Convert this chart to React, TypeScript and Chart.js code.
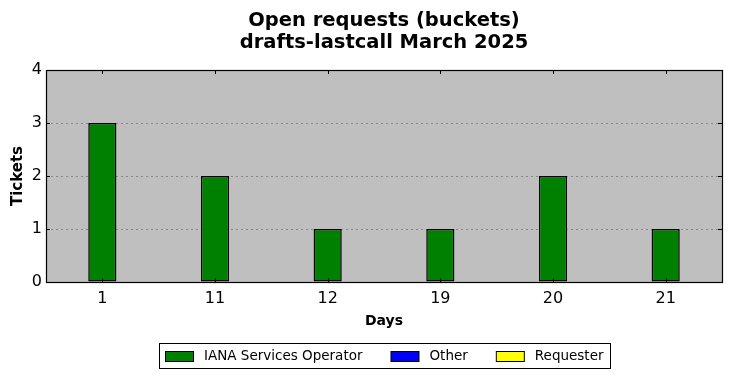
import React, { useEffect, useRef } from "react";
import { Chart, registerables } from "chart.js";

Chart.register(...registerables);

const titleLines = ["Open requests (buckets)", "drafts-lastcall March 2025"];
const days = ["1", "11", "12", "19", "20", "21"];
const seriesNames = ["IANA Services Operator", "Other", "Requester"];
const seriesColors = ["#008000", "#0000ff", "#ffff00"];
const ianaValues = [3, 2, 1, 1, 2, 1];
const otherValues = [0, 0, 0, 0, 0, 0];
const requesterValues = [0, 0, 0, 0, 0, 0];
const yTicks = [0, 1, 2, 3, 4];

const FONT = "'DejaVu Sans', sans-serif";

const framePlugin = {
  id: "frame",
  beforeDraw(chart: any) {
    const { ctx, chartArea: a } = chart;
    ctx.save();
    ctx.fillStyle = "#bfbfbf";
    ctx.fillRect(a.left, a.top, a.right - a.left, a.bottom - a.top);
    ctx.restore();
  },
  afterDatasetsDraw(chart: any) {
    const { ctx, chartArea: a } = chart;
    const xs = chart.scales.x;
    const ys = chart.scales.y;
    ctx.save();
    ctx.strokeStyle = "#000";
    ctx.lineWidth = 1;
    ctx.beginPath();
    for (let i = 0; i < days.length; i++) {
      const px = Math.round(xs.getPixelForTick(i)) + 0.5;
      ctx.moveTo(px, a.top);
      ctx.lineTo(px, a.top + 4);
      ctx.moveTo(px, a.bottom);
      ctx.lineTo(px, a.bottom - 4);
    }
    for (const v of yTicks) {
      const py = Math.round(ys.getPixelForValue(v)) + 0.5;
      ctx.moveTo(a.left, py);
      ctx.lineTo(a.left + 4, py);
      ctx.moveTo(a.right, py);
      ctx.lineTo(a.right - 4, py);
    }
    ctx.stroke();
    ctx.lineWidth = 1.2;
    ctx.strokeRect(Math.round(a.left) + 0.5, Math.round(a.top) + 0.5, Math.round(a.right - a.left), Math.round(a.bottom - a.top));
    ctx.restore();
  },
  afterDraw(chart: any) {
    // legend drawn from the dataset names/colours
    const { ctx, chartArea: a } = chart;
    const datasets = chart.data.datasets;
    ctx.save();
    ctx.font = `13.5px ${FONT}`;
    const boxW = 28, boxH = 10, gapText = 11, gapItem = 28, margin = 6;
    const widths = datasets.map((d: any) => ctx.measureText(d.label).width);
    let total = margin * 2;
    widths.forEach((w: number, i: number) => {
      total += boxW + gapText + w + (i < widths.length - 1 ? gapItem : 0);
    });
    const cx = (a.left + a.right) / 2;
    const left = Math.round(cx - total / 2);
    const top = 343, height = 25;
    const midY = top + height / 2;
    ctx.fillStyle = "#fff";
    ctx.fillRect(left, top, total, height);
    ctx.strokeStyle = "#000";
    ctx.lineWidth = 1;
    ctx.strokeRect(left + 0.5, top + 0.5, Math.round(total), height);
    let x = left + margin;
    datasets.forEach((d: any, i: number) => {
      const by = Math.round(midY - boxH / 2) + 0.5;
      ctx.fillStyle = d.backgroundColor;
      ctx.fillRect(x + 0.5, by, boxW, boxH);
      ctx.strokeStyle = "#000";
      ctx.strokeRect(x + 0.5, by, boxW, boxH);
      ctx.fillStyle = "#000";
      ctx.textBaseline = "middle";
      ctx.textAlign = "left";
      ctx.fillText(d.label, x + boxW + gapText, midY + 0.5);
      x += boxW + gapText + widths[i] + gapItem;
    });
    ctx.restore();
  },
};

export default function App() {
  const ref = useRef<HTMLCanvasElement>(null);
  useEffect(() => {
    if (!ref.current) return;
    const valuesList = [ianaValues, otherValues, requesterValues];
    const chart = new Chart(ref.current, {
      type: "bar",
      data: {
        labels: days,
        datasets: seriesNames.map((name, i) => ({
          label: name,
          data: valuesList[i],
          backgroundColor: seriesColors[i],
          borderColor: "#000",
          borderWidth: (c: any) => (c.raw ? 1.5 : 0),
          borderSkipped: false,
          barPercentage: 0.25,
          categoryPercentage: 1,
        })),
      },
      options: {
        animation: false,
        responsive: false,
        maintainAspectRatio: false,
        layout: { padding: { left: 0, right: 10, top: 0, bottom: 48 } },
        plugins: {
          tooltip: { enabled: false },
          legend: { display: false },
          title: {
            display: true,
            fullSize: false,
            text: titleLines,
            color: "#000",
            font: { family: FONT, size: 19.5, weight: "bold", lineHeight: 1.13 },
            padding: { top: 10, bottom: 16 },
          },
        },
        scales: {
          x: {
            stacked: true,
            offset: true,
            grid: { display: false, drawTicks: false },
            border: { display: false },
            ticks: { color: "#000", font: { family: FONT, size: 16 }, padding: 7 },
            title: {
              display: true,
              text: "Days",
              color: "#000",
              font: { family: FONT, size: 14, weight: "bold" },
              padding: { top: 0, bottom: 0 },
            },
            afterFit: (s: any) => {
              s.height = 48;
            },
          },
          y: {
            stacked: true,
            min: 0,
            max: 4,
            ticks: { stepSize: 1, color: "#000", font: { family: FONT, size: 16 }, padding: 4 },
            grid: {
              drawTicks: false,
              color: (c: any) => (c.tick && (c.tick.value === 0 || c.tick.value === 4) ? "rgba(0,0,0,0)" : "#888"),
              lineWidth: 1,
            },
            border: { display: false, dash: [2, 3] },
            title: {
              display: true,
              text: "Tickets",
              color: "#000",
              font: { family: FONT, size: 15, weight: "bold" },
              padding: { top: 9, bottom: 0 },
            },
            afterFit: (s: any) => {
              s.width = 46;
            },
          },
        },
      },
      plugins: [framePlugin],
    } as any);
    return () => chart.destroy();
  }, []);
  return (
    <div style={{ position: "fixed", left: 0, top: 0, width: 732, height: 378, background: "#fff" }}>
      <canvas ref={ref} width={732} height={378} style={{ width: 732, height: 378 }} />
    </div>
  );
}
